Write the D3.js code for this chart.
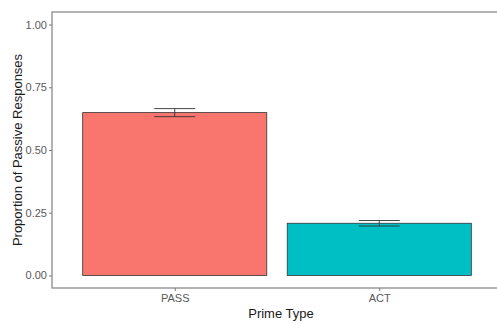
<!DOCTYPE html>
<html>
<head>
<meta charset="utf-8">
<script src="https://cdn.jsdelivr.net/npm/d3@7"></script>
<style>
  html, body { margin: 0; padding: 0; background: #fff; }
  svg { display: block; font-family: "Liberation Sans", Arial, sans-serif; }
</style>
</head>
<body>
<svg id="chart" width="497" height="324"></svg>
<script>
// Proportion of passive responses by prime type, with standard-error bars
const primeTypes = ["PASS", "ACT"];
const meanProportion = [0.649, 0.208];
const stdError = [0.016, 0.011];
const barColors = ["#F8766D", "#00BFC4"];
const yTicks = [0, 0.25, 0.5, 0.75, 1.0];

const rows = primeTypes.map((p, i) => ({
  type: p, mean: meanProportion[i], se: stdError[i], color: barColors[i]
}));

const svg = d3.select("#chart");
const panel = { left: 52, top: 12, right: 502, bottom: 288 };

// discrete axis laid out like ggplot: one unit per category, 0.6 padding on each side
const unit = (panel.right - panel.left) / 2.2;
const xPos = d3.scaleLinear().domain([0.4, 2.6]).range([panel.left, panel.right]);
const x = d3.scaleOrdinal().domain(primeTypes).range(primeTypes.map((_, i) => xPos(i + 1)));

const y = d3.scaleLinear().domain([-0.05, 1.05]).range([panel.bottom, panel.top]);

// bars
svg.append("g").selectAll("rect").data(rows).join("rect")
  .attr("x", d => x(d.type) - unit * 0.45)
  .attr("width", unit * 0.9)
  .attr("y", d => y(d.mean))
  .attr("height", d => y(0) - y(d.mean))
  .attr("fill", d => d.color)
  .attr("stroke", "#333")
  .attr("stroke-width", 0.8);

// error bars
const eb = svg.append("g").attr("stroke", "#333").attr("stroke-width", 0.9).attr("fill", "none");
rows.forEach(d => {
  const cx = x(d.type), hw = unit * 0.1;
  const top = y(d.mean + d.se), bot = y(d.mean - d.se);
  eb.append("line").attr("x1", cx).attr("x2", cx).attr("y1", top).attr("y2", bot);
  eb.append("line").attr("x1", cx - hw).attr("x2", cx + hw).attr("y1", top).attr("y2", top);
  eb.append("line").attr("x1", cx - hw).attr("x2", cx + hw).attr("y1", bot).attr("y2", bot);
});

// panel border
svg.append("rect")
  .attr("x", panel.left).attr("y", panel.top)
  .attr("width", panel.right - panel.left).attr("height", panel.bottom - panel.top)
  .attr("fill", "none").attr("stroke", "#8a8a8a").attr("stroke-width", 1.3);

// y axis
const yAxis = svg.append("g")
  .attr("transform", `translate(${panel.left},0)`)
  .call(d3.axisLeft(y).tickValues(yTicks).tickFormat(d3.format(".2f")).tickSize(3).tickPadding(2));
yAxis.select(".domain").remove();
yAxis.selectAll(".tick line").attr("stroke", "#7a7a7a");
yAxis.selectAll(".tick text").attr("fill", "#595959").style("font-size", "11px")
  .style("font-family", "'Liberation Sans', Arial, sans-serif");

// x axis
const xAxis = svg.append("g")
  .attr("transform", `translate(0,${panel.bottom})`)
  .call(d3.axisBottom(x).tickSize(3).tickPadding(3));
xAxis.select(".domain").remove();
xAxis.selectAll(".tick line").attr("stroke", "#7a7a7a");
xAxis.selectAll(".tick text").attr("fill", "#595959").style("font-size", "11px")
  .style("font-family", "'Liberation Sans', Arial, sans-serif");

// axis titles
svg.append("text")
  .attr("x", 281).attr("y", 318)
  .attr("text-anchor", "middle")
  .attr("fill", "#1a1a1a")
  .style("font-size", "13px")
  .text("Prime Type");

svg.append("text")
  .attr("transform", `translate(22,${(panel.top + panel.bottom) / 2}) rotate(-90)`)
  .attr("text-anchor", "middle")
  .attr("fill", "#1a1a1a")
  .style("font-size", "13px")
  .text("Proportion of Passive Responses");
</script>
</body>
</html>
